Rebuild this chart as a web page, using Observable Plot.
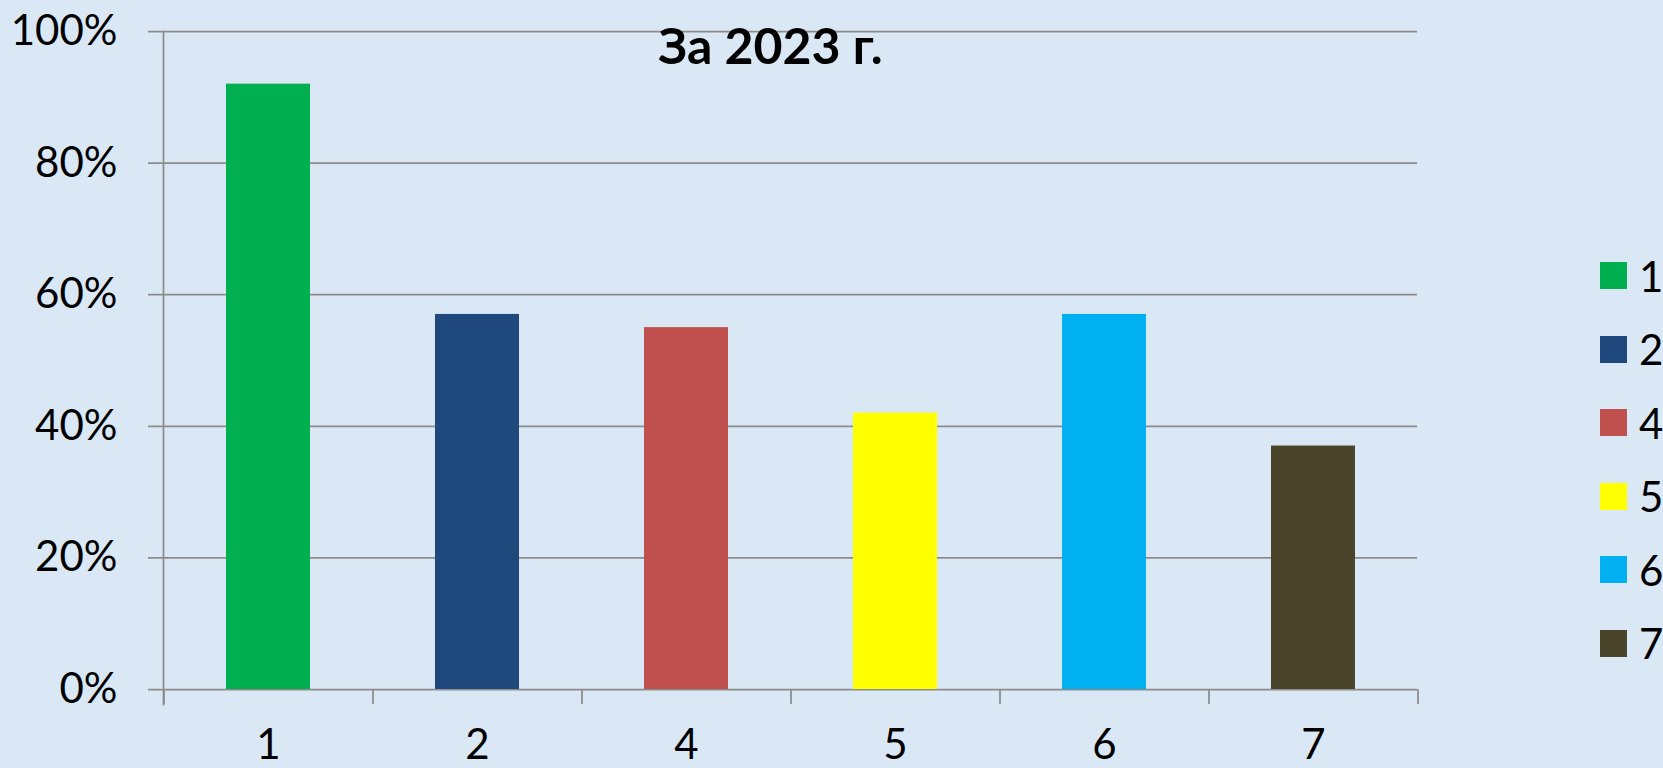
<!DOCTYPE html>
<html>
<head>
<meta charset="utf-8">
<script src="https://cdn.jsdelivr.net/npm/d3@7"></script>
<script src="https://cdn.jsdelivr.net/npm/@observablehq/plot@0.6"></script>
<style>
  html, body { margin: 0; padding: 0; }
  body { width: 1663px; height: 768px; overflow: hidden; background: #dae8f5; font-family: Lato, "Open Sans", sans-serif; }
  #wrap { position: relative; width: 1663px; height: 768px; }
  #legend { position: absolute; left: 1600px; top: 239px; }
  .item { display: flex; align-items: center; height: 73.5px; font-size: 42px; color: #000; }
  .sw { width: 27px; height: 27px; margin-right: 12px; }
</style>
</head>
<body>
<div id="wrap"><div id="legend"></div></div>
<script>
const categories = ["1", "2", "4", "5", "6", "7"];
const values = [0.92, 0.57, 0.55, 0.42, 0.57, 0.37];
const colors = ["#00b050", "#1f497d", "#c0504d", "#ffff00", "#00b0f0", "#4a452a"];
const yTicks = [0, 0.2, 0.4, 0.6, 0.8, 1];
const title = "За 2023 г.";

const data = categories.map((c, i) => ({cat: c, value: values[i]}));

const W = 1663, H = 768;
const mL = 163, mR = 246, mT = 31, mB = 79;
const pIn = 0.6, pOut = 0.3;
const step = (W - mL - mR) / (categories.length - pIn + 2 * pOut);
const grid = "#8c8c8c";

const chart = Plot.plot({
  width: W, height: H,
  marginLeft: mL, marginRight: mR, marginTop: mT, marginBottom: mB,
  style: {background: "transparent", fontFamily: "Lato, 'Open Sans', sans-serif", fontSize: "42px", color: "#000"},
  x: {domain: categories, paddingInner: pIn, paddingOuter: pOut, axis: null},
  y: {domain: [0, 1], axis: null},
  color: {domain: categories, range: colors},
  marks: [
    Plot.ruleY(yTicks, {stroke: grid, strokeWidth: 1.75, insetLeft: -15}),
    Plot.frame({anchor: "left", stroke: grid, strokeWidth: 1.75, insetBottom: -15}),
    Plot.ruleX(categories, {x: d => d, dx: -step / 2, y1: 0, y2: 0, insetBottom: -15, stroke: grid, strokeWidth: 1.75}),
    Plot.ruleX(categories.slice(-1), {x: d => d, dx: step / 2, y1: 0, y2: 0, insetBottom: -15, stroke: grid, strokeWidth: 1.75}),
    Plot.barY(data, {x: "cat", y: "value", fill: "cat"}),
    Plot.axisY({ticks: yTicks, tickFormat: d3.format(".0%"), tickSize: 0, tickPadding: 46, fontSize: 42, label: null}),
    Plot.axisX({tickSize: 0, tickPadding: 40, fontSize: 42, label: null}),
    Plot.text([title], {frameAnchor: "top", dx: -20, dy: 32, fontWeight: "bold", fontSize: 50, lineAnchor: "bottom", fill: "#000"})
  ]
});
document.getElementById("wrap").prepend(chart);

const legend = document.getElementById("legend");
categories.forEach((c, i) => {
  const item = document.createElement("div");
  item.className = "item";
  const sw = document.createElement("div");
  sw.className = "sw";
  sw.style.background = colors[i];
  const t = document.createElement("span");
  t.textContent = c;
  item.append(sw, t);
  legend.append(item);
});
</script>
</body>
</html>
